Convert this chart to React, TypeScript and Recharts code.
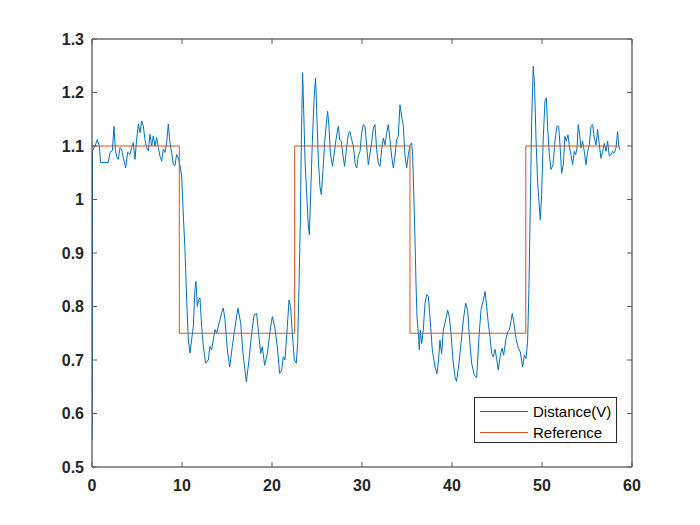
import React from 'react';
import { LineChart, Line, XAxis, YAxis, Legend } from 'recharts';

const sigTime = [
  0, 0.04, 0.15, 0.33, 0.59, 0.81, 0.96, 1.4, 1.81, 2.0, 2.26, 2.44, 2.59, 2.78, 2.92, 3.11, 3.29, 3.48, 3.74, 3.96,
  4.22, 4.4, 4.59, 4.78, 4.96, 5.15, 5.33, 5.52, 5.7, 5.89, 6.07, 6.26, 6.44, 6.63, 6.81, 7.0, 7.18, 7.37, 7.55, 7.74,
  7.92, 8.11, 8.29, 8.48, 8.66, 8.85, 9.03, 9.22, 9.4, 9.59, 9.78, 9.96, 10.15, 10.33, 10.52, 10.7, 10.89, 11.07, 11.26, 11.44,
  11.55, 11.7, 11.85, 12.0, 12.18, 12.37, 12.63, 12.92, 13.11, 13.29, 13.48, 13.66, 13.85, 14.03, 14.22, 14.4, 14.59, 14.78, 15.04, 15.3,
  15.59, 15.96, 16.22, 16.52, 16.78, 17.15, 17.44, 17.74, 18.0, 18.29, 18.55, 18.74, 18.92, 19.18, 19.48, 19.85, 20.04, 20.3, 20.59, 20.85,
  21.07, 21.26, 21.44, 21.7, 21.89, 22.07, 22.26, 22.48, 22.7, 22.85, 23.0, 23.15, 23.26, 23.4, 23.52, 23.67, 23.85, 24.04, 24.15, 24.3,
  24.48, 24.67, 24.84, 24.96, 25.15, 25.33, 25.48, 25.67, 25.85, 26.04, 26.18, 26.33, 26.48, 26.72, 26.92, 27.11, 27.37, 27.52, 27.7, 27.89,
  28.07, 28.26, 28.5, 28.67, 28.85, 29.04, 29.25, 29.41, 29.59, 29.78, 29.96, 30.15, 30.33, 30.52, 30.7, 30.89, 31.07, 31.26, 31.44, 31.63,
  31.81, 32.0, 32.18, 32.37, 32.55, 32.74, 32.92, 33.11, 33.29, 33.48, 33.66, 33.85, 34.03, 34.22, 34.4, 34.59, 34.78, 34.96, 35.15, 35.33,
  35.52, 35.63, 35.74, 35.89, 36.0, 36.11, 36.26, 36.37, 36.48, 36.63, 36.81, 37.0, 37.18, 37.37, 37.55, 37.81, 38.11, 38.33, 38.5, 38.66,
  38.85, 39.03, 39.29, 39.52, 39.7, 39.89, 40.11, 40.33, 40.5, 40.78, 41.0, 41.26, 41.52, 41.74, 41.96, 42.18, 42.48, 42.74, 43.0, 43.22,
  43.48, 43.68, 43.85, 44.03, 44.22, 44.4, 44.59, 44.78, 44.96, 45.14, 45.37, 45.55, 45.74, 46.0, 46.18, 46.37, 46.55, 46.7, 46.92, 47.11,
  47.37, 47.59, 47.85, 48.03, 48.22, 48.4, 48.55, 48.7, 48.85, 49.03, 49.18, 49.33, 49.51, 49.66, 49.81, 49.96, 50.14, 50.33, 50.48, 50.63,
  50.81, 51.0, 51.22, 51.44, 51.66, 51.85, 52.0, 52.18, 52.37, 52.55, 52.7, 52.89, 53.07, 53.22, 53.4, 53.59, 53.74, 53.89, 54.03, 54.18,
  54.33, 54.51, 54.7, 54.89, 55.07, 55.26, 55.44, 55.63, 55.81, 56.0, 56.18, 56.37, 56.55, 56.74, 56.92, 57.11, 57.29, 57.48, 57.66, 57.85,
  58.03, 58.22, 58.4, 58.51, 58.63,
];

const sigValue = [
  0.55, 1.09, 1.094, 1.1, 1.112, 1.1, 1.069, 1.069, 1.069, 1.088, 1.091, 1.137, 1.094, 1.078, 1.075, 1.097, 1.094, 1.078, 1.059, 1.088,
  1.084, 1.097, 1.106, 1.075, 1.112, 1.141, 1.125, 1.147, 1.137, 1.112, 1.097, 1.091, 1.122, 1.1, 1.119, 1.1, 1.116, 1.097, 1.081, 1.072,
  1.094, 1.088, 1.106, 1.141, 1.106, 1.088, 1.066, 1.063, 1.084, 1.078, 1.063, 1.044, 0.969, 0.906, 0.813, 0.738, 0.713, 0.738, 0.763, 0.832,
  0.847, 0.8, 0.813, 0.816, 0.763, 0.725, 0.694, 0.7, 0.725, 0.719, 0.738, 0.757, 0.75, 0.763, 0.775, 0.788, 0.797, 0.775, 0.719, 0.687,
  0.725, 0.769, 0.797, 0.769, 0.712, 0.659, 0.7, 0.75, 0.784, 0.787, 0.744, 0.712, 0.725, 0.69, 0.712, 0.762, 0.781, 0.762, 0.725, 0.675,
  0.681, 0.706, 0.7, 0.762, 0.812, 0.8, 0.75, 0.7, 0.694, 0.731, 0.837, 0.962, 1.106, 1.237, 1.168, 1.074, 1.012, 0.95, 0.934, 1.012,
  1.106, 1.187, 1.227, 1.168, 1.074, 1.024, 1.009, 1.056, 1.106, 1.143, 1.165, 1.137, 1.087, 1.062, 1.087, 1.112, 1.137, 1.112, 1.109, 1.081,
  1.062, 1.093, 1.124, 1.127, 1.112, 1.1, 1.065, 1.059, 1.081, 1.09, 1.124, 1.14, 1.137, 1.1, 1.065, 1.087, 1.106, 1.134, 1.14, 1.093,
  1.068, 1.062, 1.093, 1.115, 1.102, 1.124, 1.14, 1.112, 1.081, 1.059, 1.081, 1.112, 1.118, 1.177, 1.156, 1.137, 1.081, 1.059, 1.084, 1.102,
  1.106, 1.081, 1.018, 0.925, 0.843, 0.781, 0.75, 0.719, 0.756, 0.731, 0.756, 0.806, 0.822, 0.819, 0.781, 0.719, 0.687, 0.674, 0.7, 0.737,
  0.712, 0.756, 0.775, 0.793, 0.781, 0.75, 0.7, 0.669, 0.66, 0.694, 0.731, 0.775, 0.806, 0.793, 0.737, 0.694, 0.672, 0.667, 0.744, 0.793,
  0.812, 0.828, 0.8, 0.769, 0.744, 0.712, 0.706, 0.72, 0.703, 0.681, 0.709, 0.722, 0.709, 0.74, 0.753, 0.756, 0.772, 0.787, 0.765, 0.74,
  0.722, 0.715, 0.687, 0.709, 0.703, 0.734, 0.834, 0.99, 1.146, 1.249, 1.209, 1.115, 1.034, 0.996, 0.962, 1.009, 1.115, 1.184, 1.19, 1.134,
  1.084, 1.056, 1.065, 1.109, 1.137, 1.137, 1.102, 1.049, 1.065, 1.118, 1.109, 1.121, 1.096, 1.084, 1.065, 1.09, 1.084, 1.096, 1.14, 1.121,
  1.096, 1.109, 1.09, 1.065, 1.09, 1.102, 1.137, 1.14, 1.115, 1.102, 1.131, 1.102, 1.077, 1.09, 1.105, 1.09, 1.109, 1.081, 1.084, 1.09,
  1.087, 1.096, 1.127, 1.102, 1.093,
];

const refTime = [0, 9.7, 22.52, 35.33, 48.2, 58.63];
const refValue = [1.1, 0.75, 1.1, 0.75, 1.1, 1.1];

const xTicks = [0, 10, 20, 30, 40, 50, 60];
const yTicks = [0.5, 0.6, 0.7, 0.8, 0.9, 1.0, 1.1, 1.2, 1.3];

const seriesNames = ['Distance(V)', 'Reference'];
const seriesColors = ['#0072BD', '#D95319'];

const sigData = sigTime.map((t, i) => ({ t, v: sigValue[i] }));
const refData = refTime.map((t, i) => ({ t, v: refValue[i] }));

const AXIS = '#262626';
const TICKC = '#5a5a5a';
const TL = 5;
const FONT = 'Liberation Sans, Arial, sans-serif';

const fmtY = (v: number) => String(+Number(v).toFixed(1));

const BottomTick = (p: any) => (
  <g>
    <line x1={p.x} x2={p.x} y1={p.y} y2={p.y - TL} stroke={TICKC} strokeWidth={1} />
    <text x={p.x} y={p.y + 24} textAnchor="middle" fontSize={16} fontWeight="bold" fill={AXIS} fontFamily={FONT}>
      {p.payload.value}
    </text>
  </g>
);

const LeftTick = (p: any) => (
  <g>
    <line x1={p.x} x2={p.x + TL} y1={p.y} y2={p.y} stroke={TICKC} strokeWidth={1} />
    <text x={p.x - 8} y={p.y} dy="0.36em" textAnchor="end" fontSize={16} fontWeight="bold" fill={AXIS} fontFamily={FONT}>
      {fmtY(p.payload.value)}
    </text>
  </g>
);

const TopTick = (p: any) => (
  <line x1={p.x} x2={p.x} y1={p.y} y2={p.y + TL} stroke={TICKC} strokeWidth={1} />
);

const RightTick = (p: any) => (
  <line x1={p.x} x2={p.x - TL} y1={p.y} y2={p.y} stroke={TICKC} strokeWidth={1} />
);

const LegendBox = () => (
  <svg width={143} height={46} style={{ display: 'block' }}>
    <rect x={0.5} y={0.5} width={142} height={45} fill="#fff" stroke={AXIS} strokeWidth={1} />
    {seriesNames.map((name, i) => (
      <g key={name}>
        <line x1={6} x2={54} y1={14.5 + i * 21} y2={14.5 + i * 21} stroke={seriesColors[i]} strokeWidth={1} />
        <text x={59} y={14.5 + i * 21} dy="0.35em" fontSize={15} fill="#000" fontFamily={FONT}>
          {name}
        </text>
      </g>
    ))}
  </svg>
);

export default function App() {
  return (
    <LineChart width={684} height={509} margin={{ top: 30, right: 59, bottom: 20, left: 24 }}>
      <XAxis
        xAxisId={0}
        type="number"
        dataKey="t"
        domain={[0, 60]}
        ticks={xTicks}
        allowDataOverflow
        height={30}
        tickSize={0}
        tickMargin={0}
        tick={<BottomTick />}
        tickLine={false}
        axisLine={{ stroke: AXIS }}
        interval={0}
      />
      <XAxis
        xAxisId="top"
        orientation="top"
        type="number"
        dataKey="t"
        domain={[0, 60]}
        ticks={xTicks}
        allowDataOverflow
        height={1}
        tickSize={0}
        tickMargin={0}
        tick={<TopTick />}
        tickLine={false}
        axisLine={{ stroke: AXIS }}
        interval={0}
      />
      <YAxis
        yAxisId={0}
        type="number"
        domain={[0.5, 1.3]}
        ticks={yTicks}
        allowDataOverflow
        width={60}
        tickSize={0}
        tickMargin={0}
        tick={<LeftTick />}
        tickLine={false}
        axisLine={{ stroke: AXIS }}
        interval={0}
      />
      <YAxis
        yAxisId="right"
        orientation="right"
        type="number"
        domain={[0.5, 1.3]}
        ticks={yTicks}
        allowDataOverflow
        width={1}
        tickSize={0}
        tickMargin={0}
        tick={<RightTick />}
        tickLine={false}
        axisLine={{ stroke: AXIS }}
        interval={0}
      />
      <Line
        xAxisId={0}
        yAxisId={0}
        data={sigData}
        dataKey="v"
        name={seriesNames[0]}
        type="linear"
        stroke={seriesColors[0]}
        strokeWidth={1}
        dot={false}
        activeDot={false}
        isAnimationActive={false}
      />
      <Line
        xAxisId="top"
        yAxisId="right"
        data={refData}
        dataKey="v"
        name={seriesNames[1]}
        type="stepAfter"
        stroke={seriesColors[1]}
        strokeWidth={1}
        dot={false}
        activeDot={false}
        isAnimationActive={false}
      />
      <Legend
        layout="horizontal"
        verticalAlign="middle"
        align="center"
        content={() => <LegendBox />}
        wrapperStyle={{ left: 466, top: 389, width: 143, height: 46 }}
      />
    </LineChart>
  );
}
